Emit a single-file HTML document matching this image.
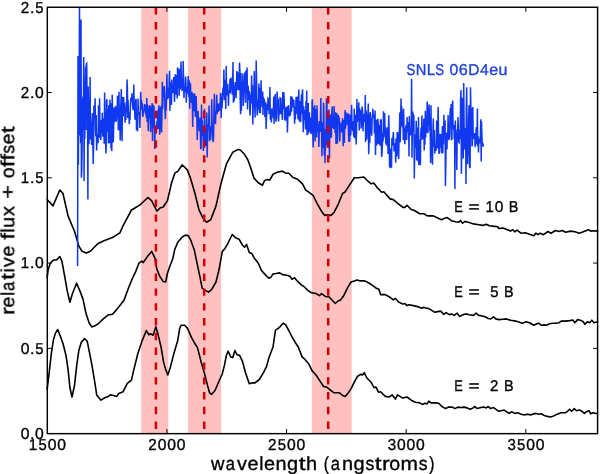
<!DOCTYPE html>
<html><head><meta charset="utf-8"><style>html,body{margin:0;padding:0;background:#fff;width:600px;height:474px;overflow:hidden}svg{display:block}g.t{will-change:transform}text{font-family:"Liberation Sans",sans-serif;text-rendering:geometricPrecision}</style></head>
<body><svg width="600" height="474" viewBox="0 0 600 474">
<rect width="600" height="474" fill="#fff"/>
<g fill="#ffc0c0">
<rect x="141.1" y="7.25" width="27.2" height="426.4"/>
<rect x="188.1" y="7.25" width="33.0" height="426.4"/>
<rect x="311.8" y="7.25" width="39.9" height="426.4"/>
</g>
<g fill="none" stroke="#000" stroke-width="1.6" stroke-linejoin="round" stroke-linecap="round">
<polyline points="47.1,199.5 53.0,205.9 59.8,190.0 62.9,193.2 68.2,216.4 74.5,231.2 78.8,246.0 81.9,251.2 86.1,252.9 90.4,251.2 97.7,243.8 104.0,240.7 112.5,237.5 119.9,232.9 123.0,225.9 131.5,210.0 137.8,206.3 140.0,204.9 148.0,197.5 151.6,200.7 156.9,211.2 160.0,208.0 163.2,207.0 167.4,200.7 171.6,182.7 174.8,173.2 178.0,171.1 182.2,164.8 187.5,170.1 190.6,178.5 194.9,193.3 199.1,210.2 203.3,218.6 206.5,222.2 210.7,219.7 216.0,205.9 221.2,182.7 226.5,163.8 232.8,152.2 238.2,149.4 240.3,150.0 244.5,154.3 247.7,159.5 250.8,168.0 254.0,178.1 258.2,182.7 262.4,185.3 264.5,180.6 266.6,179.6 269.8,180.0 273.0,174.3 277.2,172.2 282.5,171.1 285.6,173.2 288.8,173.2 293.0,177.5 297.2,179.0 302.5,183.8 305.7,190.1 308.8,192.2 313.1,195.4 317.3,203.8 321.5,211.2 324.7,215.4 327.8,214.8 331.0,215.4 334.2,212.2 338.4,203.8 342.7,193.2 344.8,192.2 349.0,185.9 354.3,177.8 358.5,177.8 363.8,177.0 368.0,181.2 371.1,183.8 373.9,183.1 377.5,188.0 381.7,192.2 383.8,191.8 390.1,198.9 393.3,199.6 397.5,203.2 402.8,207.4 404.9,207.4 407.0,205.3 411.2,209.5 414.4,210.5 419.7,213.7 423.9,213.7 427.0,215.8 429.2,215.9 433.4,215.9 437.7,218.0 441.5,219.7 444.0,218.6 447.2,217.6 449.3,219.0 451.4,220.7 455.6,221.8 458.8,222.2 460.4,220.5 462.6,223.2 465.1,221.4 469.3,222.6 473.5,223.9 478.8,224.7 483.0,225.4 486.2,224.3 489.3,225.8 494.6,226.4 497.8,226.8 498.8,228.5 503.1,228.1 507.4,229.7 510.5,231.1 512.7,229.7 514.8,231.8 516.9,230.1 521.1,233.2 525.3,232.8 529.5,234.3 533.8,235.8 535.9,233.2 538.0,234.7 540.1,233.2 543.5,234.7 548.0,231.5 551.0,233.2 555.5,230.5 559.0,231.4 562.5,230.5 565.5,232.2 570.7,231.1 574.9,231.8 579.1,233.2 583.3,231.8 588.6,229.7 590.7,231.1 593.9,230.7 597.5,231.1"/>
<polyline points="47.1,278.0 48.2,269.5 50.3,263.2 53.4,260.0 56.6,260.0 59.8,256.5 61.9,261.1 65.0,278.0 67.2,290.6 69.9,302.2 72.4,293.8 76.6,283.2 79.8,290.6 83.0,299.1 86.1,313.8 89.3,323.3 91.8,326.9 95.6,325.4 98.8,323.3 103.0,319.1 108.3,314.9 112.5,314.3 116.7,309.6 119.9,305.4 124.1,300.1 128.3,288.5 132.6,278.0 135.7,271.6 138.9,263.2 142.0,261.1 143.2,262.6 147.4,256.6 151.6,251.4 154.8,257.7 156.9,269.3 160.0,276.7 163.2,281.5 165.7,282.0 167.4,273.5 169.5,267.2 172.7,258.8 174.8,249.3 178.0,241.9 182.2,237.0 185.4,235.1 188.1,235.5 190.6,239.8 194.4,250.3 197.0,263.0 200.1,277.7 202.2,288.3 205.4,290.4 208.6,292.1 211.7,289.3 216.0,282.0 219.1,269.3 222.3,251.4 224.4,249.3 227.6,244.0 232.2,234.5 236.0,238.1 239.2,239.3 242.4,245.0 244.5,247.2 246.6,244.4 249.3,252.4 251.9,253.5 254.0,257.7 258.2,263.0 261.4,270.4 264.5,273.9 268.8,278.2 270.9,277.3 273.0,273.9 276.1,273.5 279.7,272.9 282.5,274.6 286.7,275.2 289.9,276.3 292.0,279.4 294.5,277.7 297.2,280.9 301.5,285.1 303.6,286.2 305.7,288.3 307.8,290.4 311.0,292.5 316.2,293.6 319.4,295.7 321.5,293.6 325.7,296.7 328.9,296.7 332.5,300.5 335.3,303.5 338.0,301.0 340.5,299.9 343.7,295.7 347.9,287.2 351.1,282.0 354.3,280.9 357.0,279.9 360.6,280.9 364.8,280.9 369.0,283.0 373.2,285.8 376.4,288.3 378.9,289.3 380.6,294.6 385.3,294.6 389.1,296.7 393.3,299.9 395.4,298.4 398.6,302.0 402.8,304.1 404.9,303.5 407.0,305.6 409.1,304.7 413.3,305.6 418.6,306.9 421.8,308.3 423.9,307.3 426.0,308.3 428.2,308.4 431.3,310.1 434.5,312.2 437.7,311.6 440.8,311.1 443.6,314.3 446.1,312.6 449.3,314.7 451.4,313.9 454.1,315.4 457.1,313.2 459.8,316.4 463.0,314.7 465.5,313.9 469.3,314.7 473.5,315.4 476.1,313.2 478.8,315.4 482.0,316.0 485.1,316.8 488.3,318.5 490.8,318.9 493.6,316.8 495.7,318.9 498.8,319.6 503.1,319.2 506.3,318.9 510.5,320.2 515.8,321.1 522.2,323.2 526.4,321.7 529.5,322.7 533.8,325.3 536.9,323.8 539.0,323.2 541.1,325.3 544.3,324.9 546.4,325.3 549.6,323.8 552.7,323.2 555.9,323.2 559.1,322.7 561.2,321.1 565.4,321.1 569.6,320.6 572.8,320.0 574.9,322.7 577.6,319.6 581.2,320.6 583.3,321.7 584.8,324.4 587.6,321.7 589.7,322.7 591.8,320.2 593.9,322.7 597.5,321.7"/>
<polyline points="47.1,389.6 49.2,372.7 51.3,353.8 53.4,340.0 55.5,333.1 57.7,329.5 59.8,334.8 62.9,343.2 66.1,355.9 68.2,370.6 69.9,387.5 72.0,397.0 74.5,385.4 76.6,366.4 78.8,350.6 81.3,342.2 84.5,338.6 87.2,341.1 89.3,351.6 91.8,364.3 94.6,381.2 96.7,394.9 100.9,400.2 104.1,398.1 108.3,396.4 110.4,394.9 113.6,395.5 116.7,396.4 118.8,393.4 123.1,391.7 127.3,383.3 131.5,380.1 133.6,370.6 137.8,353.8 142.0,341.1 146.3,330.5 148.9,334.8 150.5,333.7 153.1,335.2 155.8,326.8 157.9,333.7 161.1,347.4 163.6,362.2 165.7,369.6 167.8,374.9 170.6,366.4 173.8,353.8 177.6,341.1 179.7,328.4 181.1,325.3 184.7,325.3 187.5,328.4 191.7,337.9 195.3,344.3 197.4,347.4 201.2,362.2 204.3,372.7 207.5,385.4 209.6,392.8 211.7,394.3 214.9,390.7 218.1,383.3 222.3,373.8 224.4,365.4 226.5,354.8 228.2,351.2 230.7,356.9 232.8,357.6 234.9,350.6 237.1,354.8 239.6,355.4 242.4,361.1 245.5,372.7 249.3,383.7 251.9,382.9 255.0,382.9 259.3,379.5 263.5,372.7 266.6,366.4 268.8,358.0 273.0,347.0 275.5,330.1 278.2,328.4 280.4,326.3 283.1,323.2 285.6,324.6 288.8,330.5 292.0,336.9 295.1,342.2 298.3,347.0 302.1,356.9 304.6,359.0 308.8,363.9 312.0,370.6 316.2,375.3 319.4,380.1 323.6,386.5 326.8,387.1 331.0,390.7 334.2,392.8 339.5,392.8 342.7,395.5 345.2,396.4 347.9,393.4 351.1,388.6 354.3,382.2 357.4,376.5 360.6,374.4 362.7,374.9 364.2,372.7 366.9,378.0 371.1,382.2 373.9,387.5 376.0,387.1 378.5,392.2 380.6,391.7 385.3,396.4 389.1,397.0 392.2,394.9 395.4,399.1 397.5,394.9 402.8,398.1 407.0,397.0 411.2,400.2 415.4,402.3 419.7,402.9 422.4,404.4 424.9,403.3 427.0,404.0 428.8,401.2 430.9,402.9 435.5,402.9 438.7,403.3 441.9,406.5 445.7,408.6 448.2,407.1 452.4,407.1 455.0,408.6 457.7,407.1 460.9,407.5 464.0,407.1 467.2,407.9 470.4,409.2 473.1,407.9 474.6,406.5 477.3,408.6 480.9,407.5 484.1,407.1 486.2,407.9 488.3,406.5 490.4,408.6 493.6,407.5 495.7,409.2 498.8,411.3 504.2,410.0 506.3,411.7 509.5,413.4 511.6,411.7 514.8,413.4 517.9,412.8 521.1,414.3 524.3,414.9 527.4,414.3 530.6,414.9 533.8,413.8 536.3,413.4 539.0,414.3 541.1,413.8 544.3,415.5 547.5,416.4 550.6,417.0 553.8,415.9 557.0,414.3 561.2,412.8 565.4,412.8 567.5,411.3 569.6,409.2 571.7,411.3 574.3,408.6 576.4,410.7 579.1,410.0 581.2,410.7 584.4,413.4 586.5,411.7 589.0,410.7 590.7,413.8 592.8,412.8 597.5,413.8"/>
</g>
<polyline fill="none" stroke="#1038f0" stroke-width="1.5" stroke-linejoin="miter" points="77.6,266.0 78.0,56.0 78.4,165.1 78.7,87.0 79.1,96.6 79.5,7.5 79.9,135.6 80.3,30.0 80.6,143.2 81.0,19.4 81.4,177.7 81.8,170.0 82.2,139.5 82.5,106.0 82.9,96.6 83.3,130.3 83.7,57.0 84.1,181.2 84.4,108.1 84.8,138.9 85.2,85.7 85.6,66.6 86.0,129.9 86.3,64.0 86.7,63.5 87.1,97.6 87.5,108.7 87.9,199.5 88.2,86.5 88.6,124.3 89.0,143.9 89.4,119.6 89.8,110.1 90.1,77.0 90.5,139.4 90.9,121.2 91.3,136.3 91.7,144.9 92.0,123.6 92.4,113.3 92.8,133.0 93.2,164.0 93.6,145.8 93.9,105.6 94.3,116.1 94.7,113.2 95.1,98.2 95.5,129.5 95.8,136.2 96.2,115.1 96.6,150.6 97.0,141.1 97.4,137.9 97.7,134.1 98.1,143.2 98.5,105.3 98.9,137.5 99.3,137.2 99.6,98.2 100.0,132.9 100.4,123.1 100.8,140.0 101.2,120.0 101.5,126.8 101.9,132.7 102.3,112.8 102.7,136.7 103.1,125.2 103.4,134.7 103.8,118.2 104.2,143.7 104.6,92.6 105.0,123.2 105.3,135.8 105.7,145.4 106.1,153.4 106.5,100.8 106.9,99.2 107.2,132.0 107.6,123.3 108.0,109.2 108.4,143.4 108.8,105.1 109.1,132.4 109.5,143.2 109.9,99.6 110.3,118.6 110.7,103.3 111.0,148.5 111.4,144.1 111.8,151.0 112.2,94.7 112.6,111.9 112.9,130.1 113.3,142.4 113.7,125.0 114.1,107.5 114.5,122.2 114.8,117.2 115.2,114.0 115.6,105.9 116.0,121.6 116.4,120.0 116.7,113.7 117.1,111.4 117.5,95.8 117.9,106.7 118.3,130.3 118.6,110.0 119.0,91.8 119.4,130.6 119.8,118.8 120.2,140.5 120.5,111.2 120.9,103.4 121.3,89.1 121.7,127.5 122.1,141.2 122.4,97.1 122.8,99.4 123.2,116.5 123.6,96.9 124.0,104.5 124.3,103.4 124.7,110.6 125.1,122.7 125.5,108.2 125.9,120.1 126.2,102.2 126.6,112.1 127.0,79.4 127.4,88.6 127.8,118.0 128.1,99.8 128.5,115.0 128.9,114.4 129.3,124.3 129.7,117.7 130.0,120.1 130.4,105.9 130.8,98.6 131.2,98.2 131.6,101.2 131.9,93.4 132.3,100.5 132.7,106.0 133.1,110.1 133.5,103.0 133.8,84.5 134.2,106.2 134.6,109.7 135.0,119.7 135.4,113.9 135.7,99.9 136.1,99.1 136.5,130.2 136.9,116.0 137.3,128.1 137.6,131.4 138.0,98.6 138.4,112.0 138.8,112.8 139.2,114.0 139.5,113.8 139.9,128.0 140.3,109.9 140.7,91.8 141.1,106.2 141.4,99.9 141.8,109.4 142.2,103.0 142.6,114.7 143.0,116.8 143.3,111.4 143.7,111.6 144.1,109.4 144.5,104.0 144.9,107.5 145.2,104.5 145.6,114.5 146.0,111.0 146.4,117.6 146.8,97.9 147.1,121.9 147.5,105.0 147.9,105.9 148.3,131.3 148.7,108.9 149.0,118.5 149.4,109.9 149.8,105.2 150.2,108.2 150.6,132.2 150.9,119.1 151.3,106.4 151.7,119.9 152.1,103.1 152.5,141.0 152.8,104.3 153.2,127.1 153.6,128.1 154.0,105.8 154.4,125.8 154.7,149.1 155.1,128.1 155.5,126.0 155.9,134.0 156.3,125.2 156.6,127.0 157.0,121.3 157.4,129.3 157.8,110.3 158.2,129.0 158.5,113.0 158.9,105.2 159.3,120.7 159.7,134.7 160.1,125.2 160.4,107.3 160.8,120.0 161.2,105.8 161.6,132.6 162.0,110.0 162.3,81.7 162.7,109.2 163.1,94.4 163.5,97.2 163.9,87.5 164.2,86.1 164.6,91.6 165.0,110.6 165.4,119.1 165.8,98.9 166.1,110.7 166.5,94.1 166.9,73.7 167.3,96.8 167.7,99.3 168.0,87.7 168.4,95.5 168.8,97.8 169.2,79.2 169.6,70.8 169.9,110.8 170.3,84.7 170.7,82.3 171.1,97.3 171.5,104.9 171.8,79.6 172.2,91.3 172.6,93.1 173.0,89.8 173.4,92.6 173.7,77.0 174.1,88.6 174.5,102.0 174.9,89.3 175.3,74.2 175.6,87.5 176.0,94.7 176.4,85.1 176.8,75.0 177.2,98.4 177.5,67.5 177.9,87.2 178.3,81.5 178.7,68.4 179.1,95.8 179.4,86.2 179.8,69.2 180.2,89.5 180.6,77.9 181.0,61.4 181.3,75.4 181.7,86.5 182.1,90.9 182.5,85.9 182.9,84.9 183.2,61.1 183.6,82.9 184.0,98.0 184.4,87.5 184.8,89.3 185.1,92.1 185.5,76.6 185.9,80.6 186.3,102.8 186.7,92.0 187.0,86.9 187.4,93.8 187.8,86.9 188.2,76.1 188.6,87.1 188.9,96.9 189.3,80.4 189.7,108.8 190.1,92.4 190.5,83.3 190.8,97.1 191.2,96.8 191.6,102.9 192.0,91.7 192.4,107.4 192.7,126.9 193.1,93.8 193.5,110.2 193.9,105.2 194.3,111.1 194.6,93.2 195.0,100.6 195.4,116.9 195.8,113.3 196.2,96.0 196.5,109.2 196.9,118.6 197.3,140.1 197.7,111.9 198.1,111.7 198.4,121.0 198.8,121.9 199.2,131.3 199.6,125.4 200.0,117.6 200.3,127.6 200.7,149.2 201.1,148.1 201.5,104.4 201.9,126.9 202.2,120.2 202.6,136.2 203.0,128.6 203.4,150.9 203.8,141.0 204.1,140.9 204.5,108.8 204.9,131.5 205.3,135.7 205.7,145.9 206.0,138.1 206.4,129.0 206.8,112.4 207.2,157.5 207.6,132.1 207.9,124.2 208.3,126.1 208.7,124.7 209.1,105.6 209.5,141.3 209.8,135.7 210.2,126.4 210.6,139.9 211.0,132.4 211.4,130.9 211.7,99.3 212.1,122.2 212.5,129.9 212.9,140.8 213.3,142.0 213.6,136.0 214.0,106.2 214.4,93.8 214.8,122.6 215.2,115.5 215.5,124.2 215.9,111.5 216.3,114.0 216.7,94.7 217.1,114.3 217.4,103.7 217.8,111.2 218.2,111.3 218.6,104.0 219.0,107.7 219.3,103.0 219.7,110.6 220.1,106.8 220.5,94.2 220.9,93.0 221.2,118.2 221.6,97.1 222.0,108.4 222.4,101.2 222.8,90.2 223.1,87.6 223.5,96.2 223.9,69.6 224.3,100.2 224.7,79.7 225.0,86.3 225.4,91.1 225.8,108.9 226.2,65.9 226.6,95.5 226.9,84.3 227.3,94.6 227.7,83.8 228.1,92.9 228.5,106.1 228.8,92.1 229.2,92.7 229.6,91.8 230.0,78.8 230.4,93.4 230.7,84.6 231.1,77.5 231.5,86.2 231.9,83.8 232.3,94.8 232.6,85.6 233.0,62.0 233.4,102.7 233.8,97.5 234.2,100.9 234.5,93.5 234.9,85.6 235.3,82.2 235.7,84.0 236.1,98.2 236.4,88.8 236.8,70.9 237.2,87.5 237.6,72.0 238.0,90.2 238.3,74.8 238.7,74.3 239.1,90.3 239.5,62.5 239.9,70.4 240.2,98.0 240.6,114.3 241.0,72.9 241.4,110.8 241.8,82.2 242.1,84.5 242.5,88.3 242.9,73.5 243.3,105.9 243.7,96.5 244.0,81.7 244.4,87.5 244.8,72.5 245.2,86.8 245.6,102.8 245.9,70.6 246.3,86.7 246.7,94.3 247.1,67.4 247.5,109.5 247.8,88.5 248.2,85.7 248.6,100.1 249.0,91.1 249.4,92.1 249.7,108.4 250.1,115.6 250.5,99.6 250.9,94.6 251.3,103.5 251.6,75.4 252.0,97.0 252.4,85.1 252.8,124.6 253.2,106.0 253.5,99.5 253.9,95.7 254.3,71.0 254.7,106.7 255.1,117.6 255.4,90.4 255.8,107.0 256.2,60.6 256.6,81.7 257.0,110.5 257.3,115.5 257.7,102.9 258.1,99.8 258.5,109.7 258.9,83.6 259.2,102.3 259.6,113.3 260.0,88.1 260.4,113.0 260.8,97.8 261.1,80.2 261.5,101.8 261.9,92.9 262.3,106.9 262.7,91.5 263.0,114.9 263.4,96.7 263.8,108.3 264.2,98.9 264.6,102.0 264.9,117.3 265.3,107.9 265.7,102.2 266.1,128.9 266.5,117.8 266.8,114.0 267.2,104.3 267.6,110.2 268.0,98.3 268.4,98.8 268.7,101.1 269.1,113.3 269.5,113.2 269.9,87.0 270.3,118.7 270.6,119.6 271.0,113.5 271.4,122.5 271.8,108.5 272.2,110.0 272.5,115.7 272.9,110.0 273.3,118.3 273.7,96.5 274.1,124.1 274.4,100.7 274.8,106.8 275.2,93.9 275.6,114.5 276.0,121.7 276.3,119.7 276.7,117.3 277.1,91.6 277.5,100.0 277.9,103.5 278.2,98.4 278.6,121.4 279.0,111.0 279.4,108.6 279.8,114.4 280.1,97.9 280.5,98.2 280.9,98.3 281.3,113.8 281.7,111.9 282.0,114.4 282.4,119.9 282.8,92.0 283.2,100.9 283.6,108.9 283.9,92.2 284.3,101.6 284.7,119.0 285.1,120.1 285.5,120.1 285.8,109.4 286.2,107.2 286.6,120.7 287.0,106.4 287.4,132.5 287.7,123.5 288.1,107.4 288.5,105.2 288.9,110.8 289.3,116.3 289.6,115.1 290.0,112.1 290.4,115.5 290.8,96.3 291.2,102.8 291.5,111.7 291.9,102.1 292.3,98.3 292.7,99.2 293.1,101.4 293.4,107.6 293.8,99.8 294.2,110.7 294.6,123.7 295.0,106.7 295.3,119.5 295.7,110.2 296.1,96.8 296.5,104.8 296.9,97.9 297.2,114.3 297.6,96.6 298.0,119.4 298.4,112.7 298.8,89.4 299.1,114.6 299.5,121.4 299.9,100.9 300.3,116.6 300.7,122.2 301.0,110.8 301.4,94.5 301.8,113.7 302.2,94.0 302.6,89.4 302.9,114.4 303.3,132.3 303.7,106.3 304.1,120.0 304.5,113.7 304.8,109.9 305.2,119.1 305.6,129.4 306.0,101.0 306.4,119.0 306.7,90.5 307.1,135.3 307.5,130.5 307.9,134.4 308.3,103.0 308.6,132.8 309.0,114.4 309.4,112.3 309.8,131.8 310.2,117.7 310.5,119.4 310.9,134.0 311.3,131.9 311.7,127.9 312.1,100.9 312.4,99.3 312.8,132.5 313.2,147.5 313.6,121.5 314.0,106.9 314.3,118.2 314.7,105.1 315.1,141.4 315.5,109.0 315.9,120.5 316.2,120.0 316.6,137.6 317.0,105.5 317.4,123.0 317.8,121.2 318.1,130.8 318.5,130.4 318.9,146.9 319.3,128.3 319.7,121.1 320.0,131.9 320.4,125.2 320.8,98.1 321.2,126.9 321.6,132.2 321.9,156.2 322.3,122.3 322.7,132.7 323.1,148.0 323.5,102.5 323.8,106.9 324.2,155.3 324.6,129.2 325.0,163.1 325.4,136.9 325.7,148.6 326.1,128.6 326.5,99.0 326.9,99.3 327.3,145.0 327.6,133.2 328.0,112.9 328.4,144.6 328.8,109.5 329.2,143.7 329.5,158.3 329.9,118.9 330.3,114.5 330.7,138.1 331.1,114.5 331.4,137.6 331.8,113.3 332.2,106.6 332.6,127.9 333.0,121.9 333.3,116.7 333.7,128.9 334.1,105.9 334.5,123.0 334.9,121.6 335.2,132.9 335.6,112.2 336.0,144.0 336.4,122.1 336.8,112.9 337.1,140.5 337.5,143.6 337.9,123.0 338.3,114.9 338.7,125.0 339.0,116.8 339.4,120.9 339.8,141.5 340.2,128.1 340.6,125.1 340.9,127.0 341.3,122.3 341.7,131.7 342.1,131.7 342.5,118.2 342.8,123.0 343.2,146.3 343.6,126.1 344.0,119.7 344.4,143.1 344.7,121.7 345.1,110.1 345.5,128.7 345.9,112.2 346.3,116.4 346.6,125.1 347.0,120.2 347.4,113.5 347.8,115.6 348.2,115.0 348.5,133.2 348.9,142.0 349.3,114.6 349.7,141.8 350.1,114.5 350.4,135.6 350.8,133.7 351.2,118.2 351.6,104.8 352.0,124.8 352.3,127.4 352.7,130.9 353.1,121.3 353.5,134.3 353.9,136.9 354.2,108.7 354.6,138.2 355.0,123.5 355.4,114.6 355.8,117.6 356.1,144.5 356.5,133.4 356.9,99.0 357.3,121.9 357.7,119.0 358.0,118.4 358.4,114.0 358.8,102.3 359.2,130.6 359.6,108.2 359.9,115.1 360.3,112.0 360.7,110.2 361.1,128.6 361.5,123.9 361.8,110.2 362.2,106.5 362.6,112.4 363.0,131.2 363.4,120.0 363.7,121.4 364.1,114.1 364.5,115.3 364.9,122.2 365.3,95.0 365.6,142.0 366.0,110.3 366.4,113.8 366.8,139.8 367.2,125.5 367.5,123.6 367.9,115.8 368.3,103.4 368.7,154.3 369.1,140.4 369.4,113.8 369.8,142.9 370.2,112.0 370.6,117.4 371.0,133.0 371.3,127.2 371.7,135.7 372.1,119.3 372.5,116.5 372.9,108.8 373.2,115.7 373.6,117.7 374.0,114.4 374.4,133.5 374.8,123.7 375.1,110.5 375.5,155.0 375.9,123.4 376.3,119.8 376.7,144.4 377.0,143.9 377.4,121.7 377.8,118.7 378.2,123.3 378.6,144.3 378.9,130.2 379.3,125.2 379.7,133.2 380.1,145.8 380.5,119.3 380.8,129.8 381.2,119.3 381.6,156.8 382.0,153.4 382.4,144.3 382.7,132.8 383.1,141.5 383.5,111.3 383.9,137.6 384.3,119.7 384.6,112.9 385.0,127.0 385.4,131.4 385.8,142.4 386.2,144.6 386.5,140.3 386.9,127.3 387.3,146.6 387.7,138.3 388.1,153.9 388.4,130.7 388.8,115.3 389.2,137.1 389.6,167.2 390.0,148.4 390.3,168.2 390.7,152.9 391.1,148.7 391.5,167.7 391.9,137.9 392.2,144.0 392.6,145.3 393.0,136.9 393.4,132.1 393.8,143.9 394.1,151.4 394.5,147.3 394.9,144.6 395.3,143.5 395.7,162.8 396.0,138.4 396.4,146.4 396.8,156.6 397.2,132.1 397.6,133.7 397.9,143.0 398.3,150.9 398.7,159.0 399.1,133.0 399.5,129.4 399.8,112.6 400.2,142.3 400.6,124.7 401.0,98.4 401.4,125.9 401.7,106.1 402.1,115.0 402.5,127.6 402.9,115.8 403.3,140.2 403.6,108.7 404.0,129.9 404.4,133.3 404.8,144.2 405.2,137.4 405.5,128.7 405.9,126.7 406.3,124.8 406.7,139.9 407.1,117.0 407.4,132.4 407.8,124.3 408.2,128.9 408.6,121.9 409.0,156.6 409.3,116.0 409.7,129.6 410.1,130.1 410.5,135.4 410.9,133.2 411.2,133.0 411.6,78.7 412.0,157.7 412.4,128.0 412.8,111.5 413.1,131.7 413.5,114.0 413.9,117.7 414.3,178.5 414.7,146.7 415.0,137.5 415.4,134.6 415.8,148.0 416.2,120.8 416.6,160.4 416.9,127.6 417.3,129.7 417.7,149.2 418.1,161.5 418.5,117.0 418.8,165.1 419.2,155.4 419.6,145.8 420.0,139.4 420.4,165.2 420.7,135.2 421.1,127.7 421.5,135.7 421.9,115.4 422.3,139.7 422.6,131.8 423.0,137.5 423.4,137.8 423.8,118.7 424.2,150.4 424.5,118.9 424.9,144.7 425.3,110.7 425.7,137.5 426.1,120.9 426.4,132.8 426.8,123.0 427.2,101.4 427.6,116.5 428.0,133.3 428.3,107.5 428.7,112.7 429.1,104.4 429.5,122.0 429.9,131.3 430.2,126.2 430.6,162.9 431.0,105.3 431.4,147.7 431.8,145.0 432.1,154.9 432.5,164.7 432.9,133.7 433.3,118.5 433.7,147.0 434.0,137.2 434.4,130.1 434.8,153.6 435.2,145.5 435.6,146.6 435.9,150.9 436.3,144.9 436.7,120.5 437.1,131.3 437.5,148.5 437.8,126.6 438.2,107.1 438.6,141.0 439.0,153.9 439.4,152.1 439.7,147.2 440.1,133.8 440.5,147.5 440.9,142.7 441.3,134.0 441.6,153.6 442.0,142.5 442.4,126.0 442.8,153.1 443.2,132.6 443.5,144.2 443.9,114.7 444.3,135.6 444.7,122.4 445.1,121.9 445.4,186.0 445.8,165.0 446.2,132.7 446.6,137.8 447.0,149.4 447.3,132.3 447.7,140.6 448.1,115.1 448.5,135.8 448.9,127.6 449.2,139.8 449.6,135.5 450.0,114.4 450.4,108.0 450.8,119.4 451.1,103.9 451.5,139.5 451.9,139.3 452.3,105.3 452.7,100.6 453.0,124.9 453.4,129.1 453.8,125.1 454.2,139.1 454.6,131.3 454.9,189.0 455.3,120.5 455.7,136.1 456.1,135.0 456.5,132.7 456.8,170.0 457.2,129.5 457.6,135.6 458.0,117.1 458.4,127.3 458.7,141.9 459.1,142.5 459.5,130.0 459.9,139.3 460.3,133.2 460.6,98.8 461.0,90.0 461.4,173.8 461.8,147.0 462.2,130.4 462.5,97.8 462.9,106.1 463.3,158.6 463.7,83.0 464.1,124.2 464.4,149.6 464.8,134.0 465.2,147.6 465.6,127.9 466.0,183.9 466.3,107.6 466.7,87.3 467.1,137.6 467.5,164.1 467.9,130.5 468.2,155.8 468.6,120.0 469.0,105.3 469.4,164.3 469.8,168.1 470.1,167.2 470.5,87.3 470.9,108.5 471.3,109.0 471.7,129.5 472.0,146.4 472.4,145.0 472.8,107.1 473.2,139.2 473.6,136.1 473.9,137.8 474.3,136.0 474.7,133.2 475.1,147.2 475.5,139.5 475.8,141.4 476.2,127.2 476.6,144.5 477.0,137.0 477.4,108.5 477.7,146.3 478.1,136.2 478.5,152.4 478.9,138.4 479.3,139.5 479.6,143.4 480.0,140.6 480.4,135.3 480.8,119.2 481.2,161.4 481.5,121.2 481.9,135.2 482.3,146.3 482.7,142.8 483.1,144.6 483.4,146.7"/>
<g stroke="#d20000" stroke-width="2.5" stroke-dasharray="7.4 7.4">
<line x1="155.9" y1="7.2" x2="155.9" y2="433.6"/>
<line x1="204.2" y1="7.2" x2="204.2" y2="433.6"/>
<line x1="328.2" y1="7.2" x2="328.2" y2="433.6"/>
</g>
<rect x="47.3" y="7.25" width="550.3000000000001" height="426.4" fill="none" stroke="#000" stroke-width="1.45"/>
<g stroke="#000" stroke-width="1"><line x1="166.93" y1="433.6" x2="166.93" y2="429.1"/><line x1="166.93" y1="7.25" x2="166.93" y2="11.75"/><line x1="286.56" y1="433.6" x2="286.56" y2="429.1"/><line x1="286.56" y1="7.25" x2="286.56" y2="11.75"/><line x1="406.19" y1="433.6" x2="406.19" y2="429.1"/><line x1="406.19" y1="7.25" x2="406.19" y2="11.75"/><line x1="525.82" y1="433.6" x2="525.82" y2="429.1"/><line x1="525.82" y1="7.25" x2="525.82" y2="11.75"/><line x1="47.3" y1="348.33" x2="51.8" y2="348.33"/><line x1="597.6" y1="348.33" x2="593.1" y2="348.33"/><line x1="47.3" y1="263.06" x2="51.8" y2="263.06"/><line x1="597.6" y1="263.06" x2="593.1" y2="263.06"/><line x1="47.3" y1="177.79" x2="51.8" y2="177.79"/><line x1="597.6" y1="177.79" x2="593.1" y2="177.79"/><line x1="47.3" y1="92.52" x2="51.8" y2="92.52"/><line x1="597.6" y1="92.52" x2="593.1" y2="92.52"/></g>
<g class="t" font-family="Liberation Sans, sans-serif" fill="#000" stroke="#000" stroke-width="0.35"><text transform="translate(20.72,439.00) scale(0.994,1.000)" font-size="15.8">0</text><text transform="translate(29.96,439.00) scale(1.020,1.000)" font-size="15.8">.</text><text transform="translate(34.94,439.00) scale(0.994,1.000)" font-size="15.8">0</text><text transform="translate(20.72,353.73) scale(0.994,1.000)" font-size="15.8">0</text><text transform="translate(29.96,353.73) scale(1.020,1.000)" font-size="15.8">.</text><text transform="translate(35.13,353.73) scale(0.938,1.000)" font-size="15.8">5</text><text transform="translate(20.85,268.46) scale(0.949,1.000)" font-size="15.8">1</text><text transform="translate(29.96,268.46) scale(1.020,1.000)" font-size="15.8">.</text><text transform="translate(34.94,268.46) scale(0.994,1.000)" font-size="15.8">0</text><text transform="translate(20.85,183.19) scale(0.949,1.000)" font-size="15.8">1</text><text transform="translate(29.96,183.19) scale(1.020,1.000)" font-size="15.8">.</text><text transform="translate(35.13,183.19) scale(0.938,1.000)" font-size="15.8">5</text><text transform="translate(20.68,97.92) scale(0.958,1.000)" font-size="15.8">2</text><text transform="translate(29.96,97.92) scale(1.020,1.000)" font-size="15.8">.</text><text transform="translate(34.94,97.92) scale(0.994,1.000)" font-size="15.8">0</text><text transform="translate(20.68,12.65) scale(0.958,1.000)" font-size="15.8">2</text><text transform="translate(29.96,12.65) scale(1.020,1.000)" font-size="15.8">.</text><text transform="translate(35.13,12.65) scale(0.938,1.000)" font-size="15.8">5</text><text transform="translate(28.83,449.90) scale(0.949,1.000)" font-size="15.8">1</text><text transform="translate(38.38,449.90) scale(0.938,1.000)" font-size="15.8">5</text><text transform="translate(47.67,449.90) scale(0.994,1.000)" font-size="15.8">0</text><text transform="translate(57.15,449.90) scale(0.994,1.000)" font-size="15.8">0</text><text transform="translate(148.30,449.90) scale(0.958,1.000)" font-size="15.8">2</text><text transform="translate(157.82,449.90) scale(0.994,1.000)" font-size="15.8">0</text><text transform="translate(167.30,449.90) scale(0.994,1.000)" font-size="15.8">0</text><text transform="translate(176.78,449.90) scale(0.994,1.000)" font-size="15.8">0</text><text transform="translate(267.93,449.90) scale(0.958,1.000)" font-size="15.8">2</text><text transform="translate(277.64,449.90) scale(0.938,1.000)" font-size="15.8">5</text><text transform="translate(286.93,449.90) scale(0.994,1.000)" font-size="15.8">0</text><text transform="translate(296.41,449.90) scale(0.994,1.000)" font-size="15.8">0</text><text transform="translate(387.79,449.90) scale(0.955,1.000)" font-size="15.8">3</text><text transform="translate(397.08,449.90) scale(0.994,1.000)" font-size="15.8">0</text><text transform="translate(406.56,449.90) scale(0.994,1.000)" font-size="15.8">0</text><text transform="translate(416.04,449.90) scale(0.994,1.000)" font-size="15.8">0</text><text transform="translate(507.42,449.90) scale(0.955,1.000)" font-size="15.8">3</text><text transform="translate(516.90,449.90) scale(0.938,1.000)" font-size="15.8">5</text><text transform="translate(526.19,449.90) scale(0.994,1.000)" font-size="15.8">0</text><text transform="translate(535.67,449.90) scale(0.994,1.000)" font-size="15.8">0</text><text transform="translate(454.25,211.90) scale(0.822,1.000)" font-size="15.6">E</text><text transform="translate(468.54,211.90) scale(1.222,1.000)" font-size="15.6">=</text><text transform="translate(485.50,211.90) scale(0.955,1.000)" font-size="15.6">1</text><text transform="translate(494.79,211.90) scale(1.000,1.000)" font-size="15.6">0</text><text transform="translate(508.82,211.90) scale(0.922,1.000)" font-size="15.6">B</text><text transform="translate(454.25,296.90) scale(0.822,1.000)" font-size="15.6">E</text><text transform="translate(468.54,296.90) scale(1.222,1.000)" font-size="15.6">=</text><text transform="translate(490.27,296.90) scale(0.944,1.000)" font-size="15.6">5</text><text transform="translate(504.11,296.90) scale(0.922,1.000)" font-size="15.6">B</text><text transform="translate(454.25,391.10) scale(0.822,1.000)" font-size="15.6">E</text><text transform="translate(468.54,391.10) scale(1.222,1.000)" font-size="15.6">=</text><text transform="translate(490.04,391.10) scale(0.964,1.000)" font-size="15.6">2</text><text transform="translate(504.11,391.10) scale(0.922,1.000)" font-size="15.6">B</text><text transform="translate(406.38,75.30) scale(0.846,1.000)" font-size="15.7" fill="#1f40d8" stroke="#1f40d8">S</text><text transform="translate(415.71,75.30) scale(0.937,1.000)" font-size="15.7" fill="#1f40d8" stroke="#1f40d8">N</text><text transform="translate(426.81,75.30) scale(0.976,1.000)" font-size="15.7" fill="#1f40d8" stroke="#1f40d8">L</text><text transform="translate(435.28,75.30) scale(0.846,1.000)" font-size="15.7" fill="#1f40d8" stroke="#1f40d8">S</text><text transform="translate(449.47,75.30) scale(1.000,1.000)" font-size="15.7" fill="#1f40d8" stroke="#1f40d8">0</text><text transform="translate(458.79,75.30) scale(1.035,1.000)" font-size="15.7" fill="#1f40d8" stroke="#1f40d8">6</text><text transform="translate(468.26,75.30) scale(0.982,1.000)" font-size="15.7" fill="#1f40d8" stroke="#1f40d8">D</text><text transform="translate(479.90,75.30) scale(1.001,1.000)" font-size="15.7" fill="#1f40d8" stroke="#1f40d8">4</text><text transform="translate(489.15,75.30) scale(1.025,1.000)" font-size="15.7" fill="#1f40d8" stroke="#1f40d8">e</text><text transform="translate(498.40,75.30) scale(1.023,1.000)" font-size="15.7" fill="#1f40d8" stroke="#1f40d8">u</text><text transform="translate(211.00,469.50) scale(0.974,1.000)" font-size="19.1">w</text><text transform="translate(225.65,469.50) scale(0.866,1.000)" font-size="19.1">a</text><text transform="translate(237.00,469.50) scale(1.040,1.000)" font-size="19.1">v</text><text transform="translate(247.58,469.50) scale(1.041,1.000)" font-size="19.1">e</text><text transform="translate(259.20,469.50) scale(0.985,1.000)" font-size="19.1">l</text><text transform="translate(264.02,469.50) scale(1.041,1.000)" font-size="19.1">e</text><text transform="translate(275.52,469.50) scale(1.039,1.000)" font-size="19.1">n</text><text transform="translate(287.00,469.50) scale(1.047,1.000)" font-size="19.1">g</text><text transform="translate(298.63,469.50) scale(1.288,1.000)" font-size="19.1">t</text><text transform="translate(306.01,469.50) scale(1.046,1.000)" font-size="19.1">h</text><text transform="translate(323.85,469.50) scale(0.814,1.000)" font-size="19.1">(</text><text transform="translate(330.81,469.50) scale(0.866,1.000)" font-size="19.1">a</text><text transform="translate(342.04,469.50) scale(1.039,1.000)" font-size="19.1">n</text><text transform="translate(353.52,469.50) scale(1.047,1.000)" font-size="19.1">g</text><text transform="translate(365.53,469.50) scale(0.923,1.000)" font-size="19.1">s</text><text transform="translate(374.74,469.50) scale(1.288,1.000)" font-size="19.1">t</text><text transform="translate(381.93,469.50) scale(1.234,1.000)" font-size="19.1">r</text><text transform="translate(389.18,469.50) scale(1.024,1.000)" font-size="19.1">o</text><text transform="translate(400.53,469.50) scale(1.098,1.000)" font-size="19.1">m</text><text transform="translate(418.68,469.50) scale(0.923,1.000)" font-size="19.1">s</text><text transform="translate(429.14,469.50) scale(0.814,1.000)" font-size="19.1">)</text><g transform="translate(14.2,314.9) rotate(-90)"><text transform="translate(0.11,0.00) scale(1.234,1.000)" font-size="19.1">r</text><text transform="translate(7.33,0.00) scale(1.041,1.000)" font-size="19.1">e</text><text transform="translate(18.95,0.00) scale(0.985,1.000)" font-size="19.1">l</text><text transform="translate(24.00,0.00) scale(0.866,1.000)" font-size="19.1">a</text><text transform="translate(34.99,0.00) scale(1.288,1.000)" font-size="19.1">t</text><text transform="translate(42.56,0.00) scale(0.985,1.000)" font-size="19.1">i</text><text transform="translate(47.68,0.00) scale(1.040,1.000)" font-size="19.1">v</text><text transform="translate(58.25,0.00) scale(1.041,1.000)" font-size="19.1">e</text><text transform="translate(75.33,0.00) scale(1.265,1.000)" font-size="19.1">f</text><text transform="translate(82.20,0.00) scale(0.985,1.000)" font-size="19.1">l</text><text transform="translate(87.12,0.00) scale(1.039,1.000)" font-size="19.1">u</text><text transform="translate(98.81,0.00) scale(1.069,1.000)" font-size="19.1">x</text><text transform="translate(116.03,0.00) scale(1.241,1.000)" font-size="19.1">+</text><text transform="translate(136.70,0.00) scale(1.024,1.000)" font-size="19.1">o</text><text transform="translate(147.85,0.00) scale(1.265,1.000)" font-size="19.1">f</text><text transform="translate(154.32,0.00) scale(1.265,1.000)" font-size="19.1">f</text><text transform="translate(161.23,0.00) scale(0.923,1.000)" font-size="19.1">s</text><text transform="translate(170.48,0.00) scale(1.041,1.000)" font-size="19.1">e</text><text transform="translate(181.75,0.00) scale(1.288,1.000)" font-size="19.1">t</text></g>
</g>
</svg></body></html>
